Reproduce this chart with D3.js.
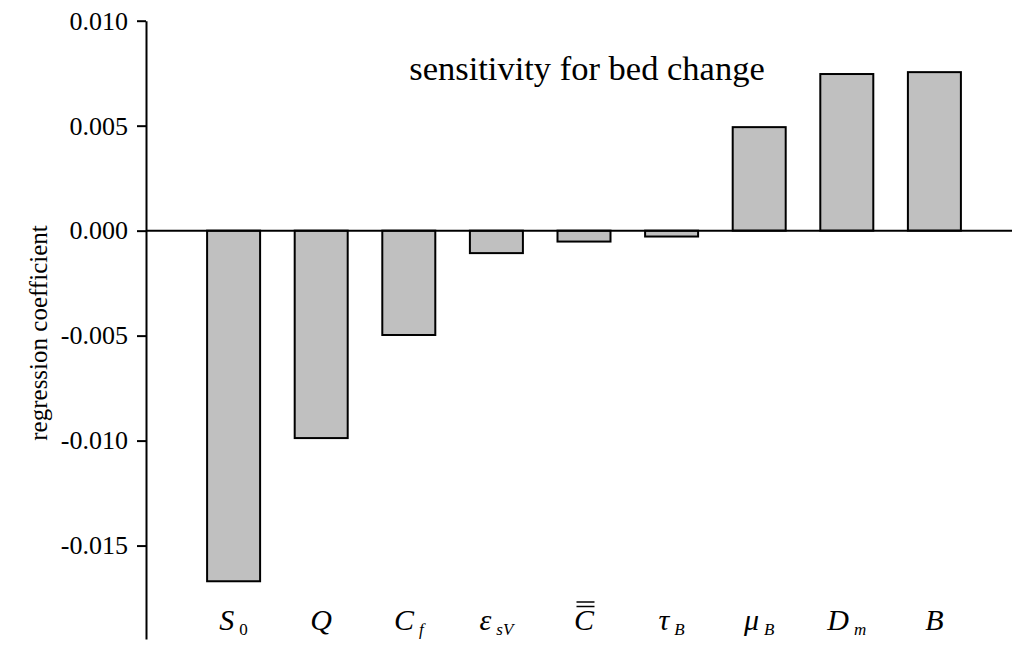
<!DOCTYPE html>
<html>
<head>
<meta charset="utf-8">
<script src="https://cdn.jsdelivr.net/npm/d3@7"></script>
<style>
  body { margin: 0; background: #fff; }
</style>
</head>
<body>
<svg width="1016" height="646"></svg>
<script>
const categories = ["S0", "Q", "Cf", "esV", "Cbar", "tauB", "muB", "Dm", "B"];
const values = [-0.0167, -0.00988, -0.00497, -0.00107, -0.00052, -0.00028, 0.00493, 0.00746, 0.00755];
const tickValues = [0.010, 0.005, 0.000, -0.005, -0.010, -0.015];
const title = "sensitivity for bed change";
const yLabel = "regression coefficient";

// label pieces: main glyph, subscript, subscript italic?
const labelParts = {
    S0: ["S", "0", false],
    Q: ["Q", "", false],
    Cf: ["C", "f", true],
    esV: ["\u03b5", "sV", true],
    Cbar: ["C", "", false],
    tauB: ["\u03c4", "B", true],
    muB: ["\u03bc", "B", true],
    Dm: ["D", "m", true],
    B: ["B", "", false]
};

const serif = '"Liberation Serif", "Times New Roman", serif';
const svg = d3.select("svg");

const x = d3.scalePoint()
    .domain(categories)
    .range([146, 1022])
    .padding(1);

const y = d3.scaleLinear()
    .domain([-0.01945, 0.010])
    .range([639, 20.7]);

const barWidth = 53;

// bars
svg.selectAll("rect.bar")
    .data(categories)
    .enter()
    .append("rect")
    .attr("class", "bar")
    .attr("x", d => x(d) - barWidth / 2)
    .attr("y", (d, i) => y(Math.max(0, values[i])))
    .attr("width", barWidth)
    .attr("height", (d, i) => Math.abs(y(values[i]) - y(0)))
    .attr("fill", "#c0c0c0")
    .attr("stroke", "black")
    .attr("stroke-width", 2);

// zero line
svg.append("line")
    .attr("x1", 146)
    .attr("x2", 1012)
    .attr("y1", y(0))
    .attr("y2", y(0))
    .attr("stroke", "black")
    .attr("stroke-width", 2);

// y axis
const yAxis = svg.append("g")
    .attr("transform", "translate(146,0)")
    .call(d3.axisLeft(y)
        .tickValues(tickValues)
        .tickFormat(d3.format(".3f"))
        .tickSize(9)
        .tickSizeOuter(0)
        .tickPadding(9));
yAxis.select(".domain").attr("stroke", "black").attr("stroke-width", 2);
yAxis.selectAll(".tick line").attr("stroke", "black").attr("stroke-width", 2);
yAxis.selectAll(".tick text")
    .style("font-family", serif)
    .style("font-size", "26px")
    .attr("fill", "black")
    .text(d => d3.format(".3f")(d).replace("\u2212", "-"));

// y label
svg.append("text")
    .attr("transform", "translate(47,333) rotate(-90)")
    .attr("text-anchor", "middle")
    .style("font-family", serif)
    .style("font-size", "25px")
    .text(yLabel);

// title
svg.append("text")
    .attr("x", 587)
    .attr("y", 80)
    .attr("text-anchor", "middle")
    .style("font-family", serif)
    .style("font-size", "34.5px")
    .text(title);

// category labels
const labels = svg.selectAll("text.cat")
    .data(categories)
    .enter()
    .append("text")
    .attr("class", "cat")
    .attr("x", d => x(d))
    .attr("y", 630)
    .attr("text-anchor", "middle")
    .style("font-family", serif)
    .style("font-size", "30px");

labels.append("tspan")
    .style("font-style", "italic")
    .text(d => labelParts[d][0]);

labels.filter(d => labelParts[d][1] !== "")
    .append("tspan")
    .style("font-size", "17px")
    .attr("dx", 5)
    .attr("dy", 5)
    .style("font-style", d => labelParts[d][2] ? "italic" : "normal")
    .text(d => labelParts[d][1]);

// double overline over C-bar
labels.filter(d => d === "Cbar").each(function() {
    const b = this.getBBox();
    const cx = b.x + b.width / 2 + 1;
    const g = svg.append("g");
    [-1, 3.5].forEach(off => {
        g.append("line")
            .attr("x1", cx - 9)
            .attr("x2", cx + 9)
            .attr("y1", b.y + off)
            .attr("y2", b.y + off)
            .attr("stroke", "black")
            .attr("stroke-width", 1.5);
    });
});
</script>
</body>
</html>
